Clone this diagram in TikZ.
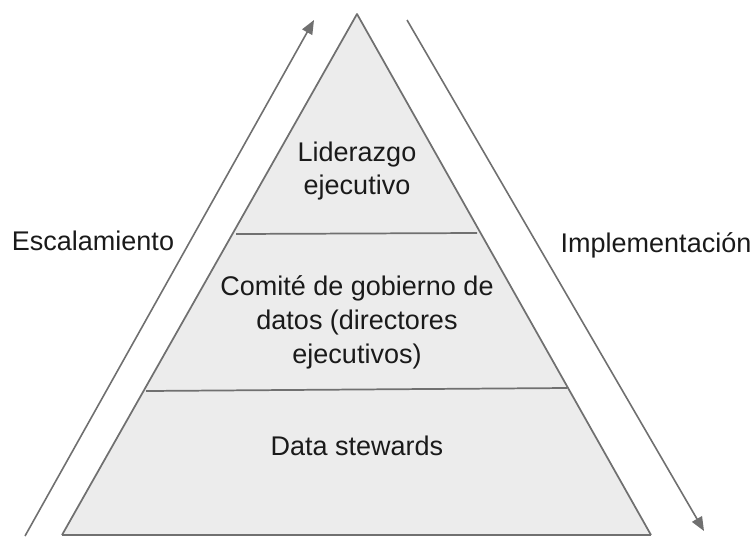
\documentclass[tikz,border=0pt]{standalone}
\usepackage{fontspec}
\setmainfont{Liberation Sans}
\usetikzlibrary{arrows.meta}
\definecolor{edge}{HTML}{707070}
\definecolor{tierfill}{HTML}{ECECEC}
\definecolor{txt}{HTML}{1A1A1A}
\begin{document}
\begin{tikzpicture}[x=0.75pt,y=-0.75pt,
  edgeline/.style={draw=edge,line width=1.3pt},
  flowarrow/.style={draw=edge,line width=1.2pt,-{Triangle[length=10.5pt,width=8.5pt]}},
  lbl/.style={inner sep=0pt,text=txt,font=\fontsize{20.25}{24.5}\selectfont,align=center}]
\useasboundingbox (0,0) rectangle (755,536);
\coordinate (apex) at (357,14);
\coordinate (bl) at (62,535);
\coordinate (br) at (651,535);
\fill[tierfill] (apex) -- (bl) -- (br) -- cycle;
\draw[edgeline,line join=round] (bl) -- (apex) -- (br);
\draw[edgeline] (bl) -- (br);
\coordinate (d1l) at (236,234);
\coordinate (d1r) at (477,233);
\coordinate (d2l) at (146,391);
\coordinate (d2r) at (567,388);
\draw[edgeline] (d1l) -- (d1r);
\draw[edgeline] (d2l) -- (d2r);
\coordinate (la) at (25,536);
\coordinate (lb) at (314,20);
\coordinate (ra) at (407,20);
\coordinate (rb) at (704,531);
\draw[flowarrow] (la) -- (lb);
\draw[flowarrow] (ra) -- (rb);
\node[lbl] (lid) at (357,171) {Liderazgo\\ejecutivo};
\node[lbl,font=\fontsize{20.25}{25.5}\selectfont] (com) at (357,322) {Comité de gobierno de\\datos (directores\\ejecutivos)};
\node[lbl,anchor=base] (ds) at (357,455) {Data stewards};
\node[lbl,anchor=base] (esc) at (93,250) {Escalamiento};
\node[lbl,anchor=base] (imp) at (656,252) {Implementación};
\end{tikzpicture}
\end{document}
